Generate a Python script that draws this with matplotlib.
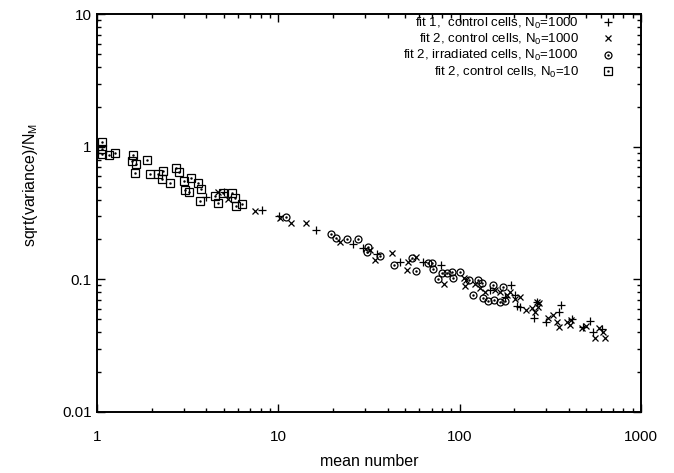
import matplotlib
matplotlib.use("Agg")
import matplotlib.pyplot as plt
from matplotlib.ticker import LogLocator, FixedLocator, FixedFormatter, NullFormatter
from matplotlib.legend_handler import HandlerTuple

plt.rcParams["font.family"] = ["Liberation Sans", "DejaVu Sans"]
plt.rcParams["mathtext.default"] = "regular"
plt.rcParams["font.size"] = 9.5

# fit 1, control cells, N0=1000
fit1_x = [3.99, 5.04, 8.10, 10.1, 16.1, 25.9, 29.4, 34.9, 46.9, 62.6, 78.5,
          191, 202, 206, 215, 267, 256, 360, 300, 351, 415, 480, 524, 547, 608,
          147, 178]
fit1_y = [0.42, 0.453, 0.332, 0.30, 0.236, 0.186, 0.172, 0.155, 0.136, 0.135, 0.129,
          0.0907, 0.0763, 0.0627, 0.0619, 0.0681, 0.0512, 0.0641, 0.0478, 0.0571,
          0.050, 0.044, 0.0486, 0.0402, 0.0421, 0.083, 0.0737]

# fit 2, control cells, N0=1000
fit2_x = [4.67, 5.30, 7.44, 10.2, 11.7, 14.2, 21.9, 32.1, 34.2, 42.2, 51.1, 51.9,
          57.5, 82.1, 105, 109, 107, 122, 130, 167, 182, 202, 232, 250, 266, 261,
          271, 275, 308, 329, 343, 355, 390, 410, 406, 498, 472, 590, 616, 558, 634,
          138, 157, 190, 215]
fit2_y = [0.458, 0.401, 0.330, 0.289, 0.268, 0.267, 0.192, 0.167, 0.141, 0.157,
          0.118, 0.136, 0.148, 0.093, 0.102, 0.099, 0.0884, 0.0923, 0.0857, 0.0807,
          0.0763, 0.0708, 0.0588, 0.0605, 0.0679, 0.0571, 0.0622, 0.0661, 0.0509,
          0.0539, 0.048, 0.044, 0.0478, 0.0494, 0.0453, 0.0446, 0.0428, 0.0428,
          0.0404, 0.036, 0.036, 0.080, 0.083, 0.080, 0.0737]

# fit 2, irradiated cells, N0=1000
irr_x = [11.0, 19.5, 20.9, 23.9, 27.6, 31.4, 31.0, 36.4, 43.5, 54.4, 57.5, 67.2,
         70.2, 71.6, 76.3, 80.0, 84.9, 90.2, 92.0, 101, 113, 118, 126, 132, 135,
         144, 152, 155, 167, 173, 178]
irr_y = [0.297, 0.220, 0.205, 0.203, 0.203, 0.175, 0.162, 0.150, 0.128, 0.144,
         0.116, 0.132, 0.132, 0.119, 0.100, 0.111, 0.112, 0.114, 0.103, 0.114,
         0.0998, 0.0763, 0.099, 0.0934, 0.0721, 0.0693, 0.0907, 0.070, 0.0679,
         0.0881, 0.069]

# fit 2, control cells, N0=10
n10_x = [1.07, 1.06, 1.06, 1.16, 1.26, 1.57, 1.55, 1.64, 1.62, 1.89, 1.96, 2.16,
         2.30, 2.29, 2.54, 2.74, 2.84, 3.03, 3.29, 3.06, 3.23, 3.59, 3.75, 3.70,
         4.48, 4.63, 4.97, 5.57, 5.77, 5.87, 6.28]
n10_y = [1.09, 0.97, 0.88, 0.86, 0.89, 0.87, 0.78, 0.74, 0.63, 0.79, 0.62, 0.62,
         0.66, 0.57, 0.53, 0.69, 0.64, 0.55, 0.58, 0.47, 0.46, 0.53, 0.48, 0.39,
         0.425, 0.38, 0.445, 0.45, 0.41, 0.357, 0.37]

labels = [
    "fit 1,  control cells, N$_0$=1000",
    "fit 2, control cells, N$_0$=1000",
    "fit 2, irradiated cells, N$_0$=1000",
    "fit 2, control cells, N$_0$=10",
]

fig = plt.figure(figsize=(6.74, 4.73), dpi=100)
ax = fig.add_axes([0.144, 0.129, 0.807, 0.841])

h1, = ax.plot(fit1_x, fit1_y, "+", color="black", markersize=5.5, mew=0.9, ls="none")
h2, = ax.plot(fit2_x, fit2_y, "x", color="black", markersize=4.5, mew=0.9, ls="none")
h3a, = ax.plot(irr_x, irr_y, "o", mfc="none", mec="black", markersize=5, mew=0.9, ls="none")
h3b, = ax.plot(irr_x, irr_y, ".", color="black", markersize=1.5, ls="none")
h4a, = ax.plot(n10_x, n10_y, "s", mfc="none", mec="black", markersize=5.5, mew=0.9, ls="none")
h4b, = ax.plot(n10_x, n10_y, ".", color="black", markersize=1.5, ls="none")

ax.set_xscale("log")
ax.set_yscale("log")
ax.set_xlim(1, 1000)
ax.set_ylim(0.01, 10)

ax.xaxis.set_major_locator(FixedLocator([1, 10, 100, 1000]))
ax.xaxis.set_major_formatter(FixedFormatter(["1", "10", "100", "1000"]))
ax.yaxis.set_major_locator(FixedLocator([0.01, 0.1, 1, 10]))
ax.yaxis.set_major_formatter(FixedFormatter(["0.01", "0.1", "1", "10"]))
ax.xaxis.set_minor_locator(LogLocator(base=10, subs=range(2, 10)))
ax.yaxis.set_minor_locator(LogLocator(base=10, subs=range(2, 10)))
ax.xaxis.set_minor_formatter(NullFormatter())
ax.yaxis.set_minor_formatter(NullFormatter())

ax.tick_params(which="both", direction="in", top=True, right=True, width=1.0,
               labelsize=11)
ax.tick_params(which="major", length=6)
ax.tick_params(which="minor", length=3)
ax.tick_params(axis="x", which="major", pad=13)
ax.tick_params(axis="y", which="major", pad=4)
for sp in ax.spines.values():
    sp.set_linewidth(1.4)

ax.set_xlabel("mean number", fontsize=11.5, labelpad=7)
ax.set_ylabel("sqrt(variance)/N$_M$", fontsize=11.5, labelpad=14)
ax.yaxis.set_label_coords(-0.105, 0.57)

leg = ax.legend(
    [h1, h2, (h3a, h3b), (h4a, h4b)],
    labels,
    handler_map={tuple: HandlerTuple(ndivide=1, pad=0)},
    loc="upper right",
    bbox_to_anchor=(0.968, 1.01),
    frameon=False,
    markerfirst=False,
    handlelength=1.5,
    handletextpad=1.5,
    labelspacing=0.1,
    borderaxespad=0.0,
)
for col in leg._legend_handle_box.get_children():
    col.align = "right"

fig.savefig("out.png", dpi=100)
